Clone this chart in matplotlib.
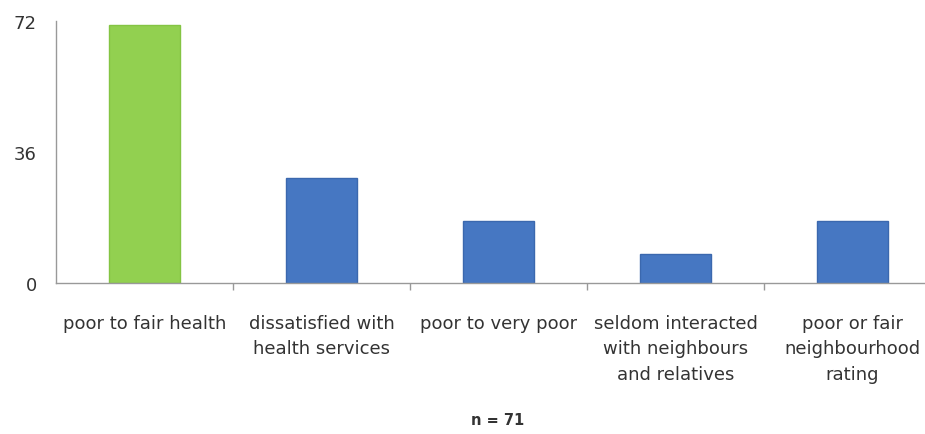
import matplotlib
matplotlib.use("Agg")
import matplotlib.pyplot as plt
from matplotlib.ticker import FixedLocator

plt.rcParams['font.family'] = ['DejaVu Sans']

categories = [
    "poor to fair health",
    "dissatisfied with\nhealth services",
    "poor to very poor",
    "seldom interacted\nwith neighbours\nand relatives",
    "poor or fair\nneighbourhood\nrating",
]
values = [71, 29, 17, 8, 17]
y_ticks = [0, 36, 72]
note = "n = 71"

bar_colors = ["#92D050", "#4677C2", "#4677C2", "#4677C2", "#4677C2"]
edge_colors = ["#84C443", "#3B68AE", "#3B68AE", "#3B68AE", "#3B68AE"]

fig = plt.figure(figsize=(9.25, 4.35), dpi=100)
ax = fig.add_axes([0.061, 0.347, 0.939, 0.6023])

x = list(range(len(categories)))
ax.bar(x, values, width=0.4, color=bar_colors, edgecolor=edge_colors, linewidth=1.0, zorder=2)

ax.set_xlim(-0.5, 4.41)
ax.set_ylim(0, 72)
ax.set_yticks(y_ticks)
ax.set_yticklabels([str(v) for v in y_ticks], fontsize=13, color="#333333")
ax.tick_params(axis='y', length=0, pad=14)

ax.set_xticks(x)
ax.set_xticklabels(categories, fontsize=13, color="#333333", linespacing=1.55)
ax.tick_params(axis='x', which='major', length=0, pad=22)
ax.xaxis.set_minor_locator(FixedLocator([i + 0.5 for i in range(len(categories) - 1)]))
ax.tick_params(axis='x', which='minor', length=5, width=1, color="#999999", direction='out')

for side in ("top", "right"):
    ax.spines[side].set_visible(False)
for side in ("left", "bottom"):
    ax.spines[side].set_color("#999999")
    ax.spines[side].set_linewidth(1.0)

fig.text(498 / 925, 1 - 421 / 435, note, ha='center', va='center', fontsize=10.5,
         fontweight='bold', color="#333333")

fig.savefig("out.png", dpi=100, facecolor="white")
